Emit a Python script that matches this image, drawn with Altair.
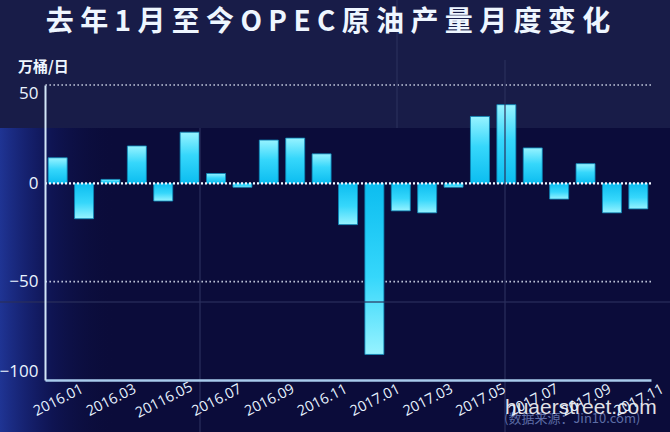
import altair as alt
import pandas as pd

# Monthly change in OPEC crude output (10k barrels/day)
months = [
    "2016.01", "2016.02", "2016.03", "2016.04", "2016.05", "2016.06",
    "2016.07", "2016.08", "2016.09", "2016.10", "2016.11", "2016.12",
    "2017.01", "2017.02", "2017.03", "2017.04", "2017.05", "2017.06",
    "2017.07", "2017.08", "2017.09", "2017.10", "2017.11",
]
changes = [13, -18, 2, 19, -9, 26, 5, -2, 22, 23, 15, -21,
           -87, -14, -15, -2, 34, 40, 18, -8, 10, -15, -13]

tick_months = months[::2]
tick_labels = ["2016.01", "2016.03", "20116.05", "2016.07", "2016.09", "2016.11",
               "2017.01", "2017.03", "2017.05", "2017.07", "2017.09", "2017.11"]
y_ticks = [50, 0, -50, -100]
grid_values = [50, -50]
zero_value = [0]

title_text = "去 年 1 月 至 今 O P E C 原 油 产 量 月 度 变 化"
unit_text = "万桶/日"
source_text = "(数据来源：Jin10.com)"
watermark_text = "huaerstreet.com"

df = pd.DataFrame({"month": months, "change": changes})

W, H = 606, 295
PAD_L, PAD_T = 45, 85

one = alt.Data(values=[{"k": 0}])

label_expr = "[{}][indexof([{}], datum.value)]".format(
    ",".join("'%s'" % s for s in tick_labels),
    ",".join("'%s'" % s for s in tick_months),
)

x_enc = alt.X(
    "month:N",
    sort=months,
    scale=alt.Scale(domain=months, paddingInner=0.28, paddingOuter=0.12),
    axis=alt.Axis(
        title=None, values=tick_months, labelExpr=label_expr,
        labelAngle=333, labelAlign="center", labelBaseline="middle",
        labelPadding=20, labelOffset=1, ticks=False, grid=False,
        domainColor="#a9cbec", domainWidth=2.5,
        labelColor="#e6f2ff", labelFontSize=14.5, labelFont="Open Sans",
        zindex=1,
    ),
)
y_axis = alt.Axis(
    title=None, values=y_ticks, ticks=False, grid=False,
    labelFlush=True, labelPadding=7,
    domainColor="#d2e6f7", domainWidth=2,
    labelColor="#eaf4ff", labelFontSize=17, labelFont="Open Sans",
    zindex=1,
)
y_scale = alt.Scale(domain=[-100, 50], nice=False)
y_enc = alt.Y("change:Q", scale=y_scale, axis=y_axis)

stops = [alt.GradientStop(color="#97f3ff", offset=0),
         alt.GradientStop(color="#36d7fb", offset=0.45),
         alt.GradientStop(color="#0cbdf0", offset=1)]
pos_grad = alt.Gradient(gradient="linear", x1=0, x2=0, y1=0, y2=1, stops=stops)
neg_grad = alt.Gradient(gradient="linear", x1=0, x2=0, y1=1, y2=0, stops=stops)

# backdrop panels
top_band = alt.Chart(one).mark_rect(color="#181c48").encode(
    x=alt.value(-PAD_L), x2=alt.value(670 - PAD_L),
    y=alt.value(-PAD_T), y2=alt.value(128 - PAD_T),
)
left_glow = alt.Chart(one).mark_rect(
    color=alt.Gradient(
        gradient="linear", x1=0, x2=1, y1=0, y2=0,
        stops=[alt.GradientStop(color="rgba(36,62,170,0.8)", offset=0),
               alt.GradientStop(color="rgba(24,40,140,0.3)", offset=0.45),
               alt.GradientStop(color="rgba(11,12,58,0)", offset=1)],
    )
).encode(
    x=alt.value(-PAD_L), x2=alt.value(70),
    y=alt.value(128 - PAD_T), y2=alt.value(432 - PAD_T),
)

grid = alt.Chart(pd.DataFrame({"change": grid_values})).mark_rule(
    color="#e8f0ff", strokeWidth=1.6, strokeDash=[1.6, 2.4], opacity=0.8
).encode(y=y_enc)

bars_pos = alt.Chart(df).transform_filter("datum.change >= 0").mark_bar(
    color=pos_grad, stroke="#0a86b8", strokeWidth=0.8
).encode(x=x_enc, y=y_enc)
bars_neg = alt.Chart(df).transform_filter("datum.change < 0").mark_bar(
    color=neg_grad, stroke="#0a86b8", strokeWidth=0.8
).encode(x=x_enc, y=y_enc)

zero_line = alt.Chart(pd.DataFrame({"change": zero_value})).mark_rule(
    color="#f2f7ff", strokeWidth=2.4, strokeDash=[2, 2]
).encode(y=y_enc)

# panel seams
seam_style = dict(color="#2b2f5c", strokeWidth=1.5, opacity=0.8)
seams = [
    alt.Chart(one).mark_rule(**seam_style).encode(
        x=alt.value(505 - PAD_L), x2=alt.value(505 - PAD_L),
        y=alt.value(60 - PAD_T), y2=alt.value(432 - PAD_T)),
    alt.Chart(one).mark_rule(**seam_style).encode(
        x=alt.value(200 - PAD_L), x2=alt.value(200 - PAD_L),
        y=alt.value(128 - PAD_T), y2=alt.value(432 - PAD_T)),
    alt.Chart(one).mark_rule(**seam_style).encode(
        x=alt.value(397 - PAD_L), x2=alt.value(397 - PAD_L),
        y=alt.value(-PAD_T), y2=alt.value(128 - PAD_T)),
    alt.Chart(one).mark_rule(**seam_style).encode(
        x=alt.value(-PAD_L), x2=alt.value(670 - PAD_L),
        y=alt.value(302 - PAD_T), y2=alt.value(302 - PAD_T)),
]

title = alt.Chart(one).mark_text(
    text=title_text, font="Noto Sans CJK SC", fontSize=28, fontWeight="bold",
    color="#eef6ff", align="center", baseline="middle",
).encode(x=alt.value(328 - PAD_L), y=alt.value(23 - PAD_T))

unit = alt.Chart(one).mark_text(
    text=unit_text, font="Noto Sans CJK SC", fontSize=15, fontWeight="bold",
    color="#eef6ff", align="left", baseline="middle",
).encode(x=alt.value(18 - PAD_L), y=alt.value(67 - PAD_T))

source = alt.Chart(one).mark_text(
    text=source_text, font="Noto Sans CJK SC", fontSize=13,
    color="#5d6ca6", align="left", baseline="middle",
).encode(x=alt.value(504 - PAD_L), y=alt.value(419 - PAD_T))

watermark = alt.Chart(one).mark_text(
    text=watermark_text, font="Liberation Sans", fontSize=21,
    color="#ffffff", opacity=0.88, align="left", baseline="alphabetic",
).encode(x=alt.value(505 - PAD_L), y=alt.value(414 - PAD_T))

chart = alt.layer(
    top_band, left_glow, grid, bars_pos, bars_neg, zero_line, *seams,
    title, unit, source, watermark,
).properties(
    width=W, height=H,
    padding={"left": PAD_L, "top": PAD_T, "right": 670 - PAD_L - W, "bottom": 432 - PAD_T - H},
    autosize="none",
).configure(background="#0b0c3a").configure_view(strokeOpacity=0)

chart.save("out.html", embed_options={"renderer": "svg", "actions": False})
